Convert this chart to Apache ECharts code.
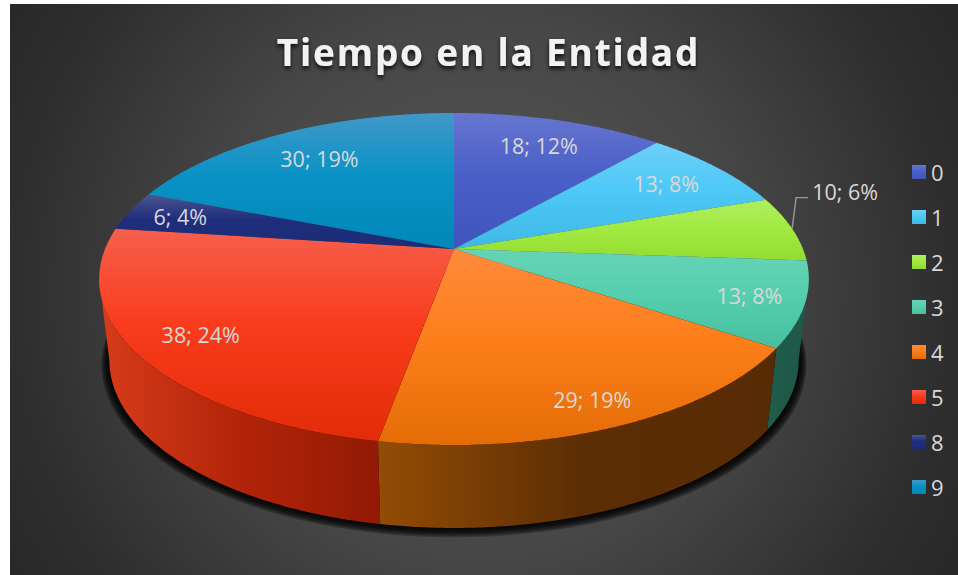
<!DOCTYPE html>
<html>
<head>
<meta charset="utf-8">
<title>Tiempo en la Entidad</title>
<style>
  html, body { margin: 0; padding: 0; background: #fff; }
  #main { width: 958px; height: 575px; }
  /* zrender has no letter spacing, only the bold title needs it */
  #main text[style*="bold"] { letter-spacing: 1.8px; }
</style>
<script src="https://cdn.jsdelivr.net/npm/echarts@6/dist/echarts.min.js"></script>
</head>
<body>
<div id="main"></div>
<script>
'use strict';

const titleText = 'Tiempo en la Entidad';
const categories = ['0', '1', '2', '3', '4', '5', '8', '9'];
const values = [18, 13, 10, 13, 29, 38, 6, 30];
const percents = [12, 8, 6, 8, 19, 24, 4, 19];

// top face colours: light, middle, dark
const topColors = [
  ['#6675cf', '#4a60c8', '#3e55bd'],
  ['#6ed0f7', '#4dc8f7', '#3fb8e6'],
  ['#aeee60', '#a3ea42', '#94dc32'],
  ['#66d3b5', '#55cfae', '#48bfa0'],
  ['#ff8a3c', '#fd7f1c', '#e46c05'],
  ['#f65f4d', '#f93c1c', '#e22c08'],
  ['#4b5590', '#1f2e7c', '#1c2c78'],
  ['#4198c8', '#0a92c6', '#0087b8']
];
// side wall colours, left to right (the back slices show no wall)
const wallColors = [
  null,
  null,
  null,
  ['#1f5c4a', '#1f5a49', '#1f5848'],
  ['#934c05', '#5d2e04', '#572b04'],
  ['#d63c1a', '#b32409', '#921a04'],
  null,
  null
];
// how far out along the slice each label sits
const labelRadius = [0.78, 0.79, 1, 0.85, 0.87, 0.82, 0.84, 0.76];

// perspective of the tilted disc
const apexX = 454;
const persp = 0.1807;
const topA = 349;
const topB = 160.6;
const topY = 249;
const botA = 339;
const botB = 162.5;
const botY = 329.6;
// where the disc outline turns vertical, the wall stops there
const wallFrom = Math.PI / 2 + Math.asin(persp);
const wallTo = Math.PI * 2 - wallFrom;
// soft shadow under the pie, stacked see-through layers
const shadowLayers = 7;
// the shadow runs on behind the pie so its ends stay hidden
const shadowOverlap = 0.6;

const total = values.reduce(function(a, b) { return a + b; }, 0);

function project(angle, r, a, b, y0) {
  let u = Math.sin(angle) * r;
  let v = -Math.cos(angle) * r;
  let w = 1 - persp * v;
  return [apexX + a * u / w, y0 + b * v / w];
}
function topPoint(angle, r) {
  return project(angle, r, topA, topB, topY);
}
function botPoint(angle) {
  return project(angle, 1, botA, botB, botY);
}
function arc(from, to, fn) {
  let pts = [];
  let steps = Math.max(2, Math.ceil((to - from) / 0.008));
  for (let i = 0; i <= steps; i++) {
    pts.push(fn(from + (to - from) * i / steps));
  }
  return pts;
}
function topGradient(c) {
  return new echarts.graphic.LinearGradient(0, 0, 0, 1, [
    {offset: 0, color: c[0]},
    {offset: 0.45, color: c[1]},
    {offset: 1, color: c[2]}
  ]);
}
function wallGradient(c) {
  return new echarts.graphic.LinearGradient(0, 0, 1, 0, [
    {offset: 0, color: c[0]},
    {offset: 0.5, color: c[1]},
    {offset: 1, color: c[2]}
  ]);
}

function renderSlice(index) {
  let before = values.slice(0, index).reduce(function(a, b) { return a + b; }, 0);
  let from = before / total * Math.PI * 2;
  let to = (before + values[index]) / total * Math.PI * 2;
  let mid = (from + to) / 2;
  let rim = arc(from, to, function(t) { return topPoint(t, 1); });
  let children = [{
    type: 'polygon',
    z2: 10,
    shape: {points: [[apexX, topY]].concat(rim)},
    style: {fill: topGradient(topColors[index])}
  }];
  if (wallColors[index]) {
    let a = Math.max(from, wallFrom);
    let b = Math.min(to, wallTo);
    let upper = arc(a, b, function(t) { return topPoint(t, 1); });
    let lower = arc(a, b, botPoint).reverse();
    children.push({
      type: 'polygon',
      z2: 1,
      shape: {points: upper.concat(lower)},
      style: {fill: wallGradient(wallColors[index])}
    });
  }
  let text = values[index] + '; ' + percents[index] + '%';
  let labelStyle = {
    text: text,
    fill: '#d9d9d9',
    fontSize: 21.5,
    fontFamily: '"Open Sans"',
    align: 'center',
    verticalAlign: 'middle'
  };
  if (labelRadius[index] >= 1) {
    // this one sits outside, joined with a leader line
    let p = topPoint(mid, 1);
    children.push({
      type: 'polyline',
      z2: 12,
      shape: {points: [p, [p[0] + 4, p[1] - 31], [p[0] + 16, p[1] - 31]]},
      style: {stroke: '#9a9a9a', lineWidth: 1.4, fill: null}
    });
    labelStyle.x = p[0] + 20;
    labelStyle.y = p[1] - 37;
    labelStyle.align = 'left';
  } else {
    let p = topPoint(mid, labelRadius[index]);
    labelStyle.x = p[0];
    labelStyle.y = p[1];
  }
  children.push({type: 'text', z2: 20, style: labelStyle});
  return {type: 'group', children: children};
}

function renderShadow() {
  let layers = [];
  for (let i = shadowLayers; i >= 1; i--) {
    let pts = arc(wallFrom - shadowOverlap, wallTo + shadowOverlap, function(t) {
      return project(t, 1, botA + i * 1.1, botB + i * 0.6, botY + i * 0.6);
    });
    layers.push({
      type: 'polygon',
      shape: {points: pts},
      style: {fill: 'rgba(0,0,0,0.26)'}
    });
  }
  return {type: 'group', children: layers};
}

let series = [{
  type: 'custom',
  name: 'sombra',
  coordinateSystem: 'none',
  z: 1,
  silent: true,
  data: [[total]],
  renderItem: renderShadow
}];
categories.forEach(function(name, i) {
  series.push({
    type: 'custom',
    name: name,
    coordinateSystem: 'none',
    z: 2,
    data: [[values[i]]],
    itemStyle: {color: topGradient(topColors[i])},
    renderItem: function() { return renderSlice(i); }
  });
});

let chart = echarts.init(document.getElementById('main'), null, {renderer: 'svg'});
chart.setOption({
  animation: false,
  backgroundColor: '#fff',
  graphic: [{
    type: 'rect',
    z: -10,
    silent: true,
    shape: {x: 10, y: 4, width: 948, height: 571},
    style: {
      fill: new echarts.graphic.RadialGradient(480, 290, 550, [
        {offset: 0, color: '#5a5a5a'},
        {offset: 0.5, color: '#464646'},
        {offset: 0.85, color: '#2e2e2e'},
        {offset: 1, color: '#282828'}
      ], true)
    }
  }],
  title: {
    text: titleText,
    left: 483.5,
    top: 28,
    textAlign: 'center',
    textStyle: {
      color: '#f2f2f2',
      fontSize: 37,
      fontWeight: 'bold',
      fontFamily: '"Open Sans"',
      textShadowColor: 'rgba(0,0,0,0.8)',
      textShadowBlur: 4,
      textShadowOffsetY: 3
    }
  },
  legend: {
    data: categories,
    orient: 'vertical',
    left: 912,
    top: 161,
    padding: 0,
    icon: 'rect',
    itemWidth: 14,
    itemHeight: 14,
    itemGap: 23,
    selectedMode: false,
    textStyle: {
      color: '#d9d9d9',
      fontSize: 22,
      fontFamily: '"Open Sans"',
      lineHeight: 14,
      padding: [0, 0, 0, 0]
    }
  },
  series: series
});
</script>
</body>
</html>
